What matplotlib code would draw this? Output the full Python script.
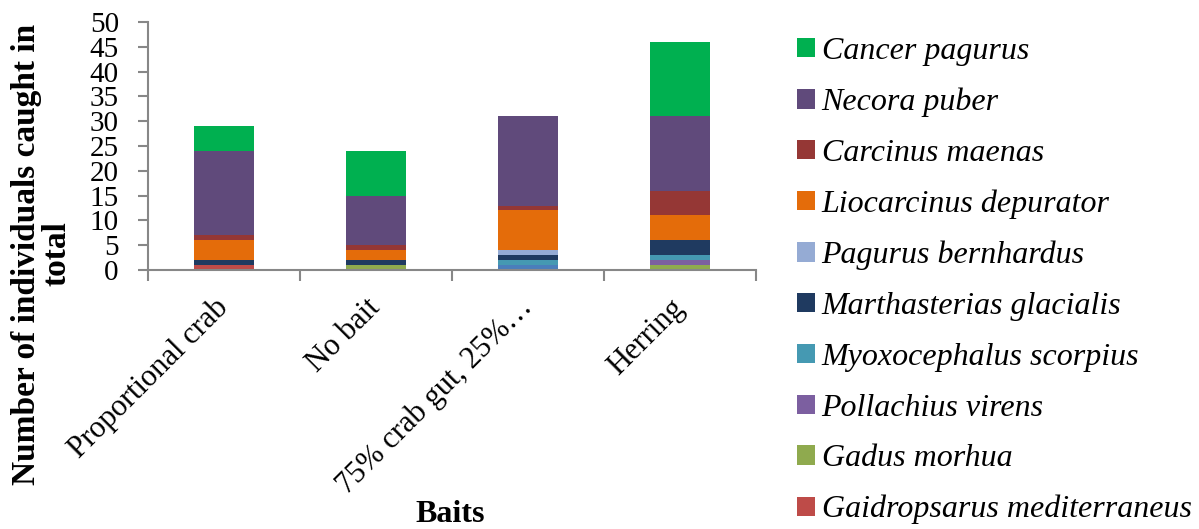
import matplotlib.pyplot as plt
import numpy as np

# bait treatments (x categories)
baits = ['Proportional crab', 'No bait', '75% crab gut, 25%…', 'Herring']

# individuals caught per species and bait, bottom of stack first
unlisted = [0, 0, 1, 0]
gaidropsarus = [1, 0, 0, 0]
gadus = [0, 1, 0, 1]
pollachius = [0, 0, 0, 1]
myoxocephalus = [0, 0, 1, 1]
marthasterias = [1, 1, 1, 3]
pagurus = [0, 0, 1, 0]
liocarcinus = [4, 2, 8, 5]
carcinus = [1, 1, 1, 5]
necora = [17, 10, 18, 15]
cancer = [5, 9, 0, 15]

series = [
    (None, unlisted, '#4A7EBB'),
    ('Gaidropsarus mediterraneus', gaidropsarus, '#BE4B48'),
    ('Gadus morhua', gadus, '#8FAA4E'),
    ('Pollachius virens', pollachius, '#7C5FA0'),
    ('Myoxocephalus scorpius', myoxocephalus, '#4599B2'),
    ('Marthasterias glacialis', marthasterias, '#1F3A60'),
    ('Pagurus bernhardus', pagurus, '#95ABD4'),
    ('Liocarcinus depurator', liocarcinus, '#E46C0A'),
    ('Carcinus maenas', carcinus, '#953735'),
    ('Necora puber', necora, '#604A7B'),
    ('Cancer pagurus', cancer, '#00B050'),
]

plt.rcParams['font.family'] = ['Liberation Serif', 'DejaVu Serif']
axis_grey = '#878787'

fig = plt.figure(figsize=(11.99, 5.29), dpi=100)
ax = fig.add_axes([148 / 1199, 1 - 270 / 529, (756 - 148) / 1199, (270 - 22) / 529])

x = np.arange(len(baits))
bottom = np.zeros(len(baits))
handles = []
labels = []
for name, vals, color in series:
    vals = np.array(vals, dtype=float)
    bars = ax.bar(x, vals, width=0.4, bottom=bottom, color=color, linewidth=0)
    bottom += vals
    if name is not None:
        handles.append(bars)
        labels.append(name)

ax.set_xlim(-0.5, len(baits) - 0.5)
ax.set_ylim(0, 50)
ax.set_yticks(np.arange(0, 51, 5))
ax.tick_params(axis='y', labelsize=21, direction='out', length=7, width=1.5,
               color=axis_grey, pad=14)

# category ticks sit between the bars
ax.set_xticks(np.arange(-0.5, len(baits), 1.0))
ax.set_xticklabels([])
ax.set_xticks(x, minor=True)
ax.set_xticklabels(baits, minor=True, rotation=45, ha='right', va='center',
                   rotation_mode='anchor', fontsize=22)
ax.tick_params(axis='x', which='major', direction='out', length=8, width=1.5,
               color=axis_grey)
ax.tick_params(axis='x', which='minor', length=0, pad=24)

for side in ['top', 'right']:
    ax.spines[side].set_visible(False)
for side in ['left', 'bottom']:
    ax.spines[side].set_color(axis_grey)
    ax.spines[side].set_linewidth(1.5)

fig.text(0.035, 1 - 254 / 529, 'Number of individuals caught in\ntotal', rotation=90,
         ha='center', va='center', multialignment='center',
         fontsize=24, fontweight='bold', linespacing=1.0)
fig.text(450 / 1199, 1 - 515 / 529, 'Baits', ha='center', va='center',
         fontsize=23, fontweight='bold')

fig.legend(handles[::-1], labels[::-1], loc='upper left',
           bbox_to_anchor=(797 / 1199, 1 - 37 / 529), frameon=False,
           prop={'style': 'italic', 'size': 23}, handlelength=0.55,
           handleheight=0.55, handletextpad=0.22, labelspacing=0.68,
           borderaxespad=0, borderpad=0)

fig.savefig('out.png', dpi=100)
